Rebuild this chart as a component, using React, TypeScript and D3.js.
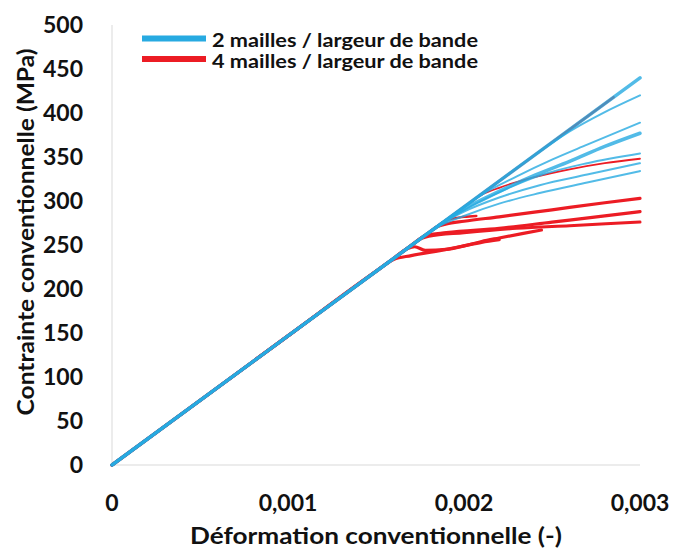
import React from "react";
import * as d3 from "d3";

type Pt = [number, number];

const xTicks = [0, 0.001, 0.002, 0.003];
const xTickLabels = ["0", "0,001", "0,002", "0,003"];
const yTicks = [0, 50, 100, 150, 200, 250, 300, 350, 400, 450, 500];

const xTitle = "Déformation conventionnelle (-)";
const yTitle = "Contrainte conventionnelle (MPa)";
const legendLabels = ["2 mailles / largeur de bande", "4 mailles / largeur de bande"];

// 4 mailles / largeur de bande (red)
const red1: Pt[] = [[0, 0], [0.001, 146.7], [0.0016, 234.7], [0.00285, 418]];
const red2: Pt[] = [[0, 0], [0.001, 146.7], [0.0016, 234.7], [0.002, 293.3], [0.0021, 307], [0.0022, 315], [0.0024, 327], [0.0026, 336], [0.0028, 343], [0.003, 348]];
const red3: Pt[] = [[0, 0], [0.001, 146.7], [0.0016, 234.7], [0.0018, 264], [0.00185, 271], [0.0019, 274], [0.002, 277], [0.0022, 282], [0.0025, 290], [0.0028, 298], [0.003, 303]];
const red4: Pt[] = [[0, 0], [0.001, 146.7], [0.0016, 234.7], [0.0017, 249.4], [0.00178, 260.5], [0.0019, 264], [0.0022, 269], [0.0025, 276], [0.0028, 283], [0.003, 288]];
const red5: Pt[] = [[0, 0], [0.001, 146.7], [0.0016, 234.7], [0.0017, 249.4], [0.00176, 257.5], [0.0018, 260], [0.002, 264], [0.0023, 269], [0.0026, 272], [0.003, 276]];
const red6: Pt[] = [[0, 0], [0.001, 146.7], [0.0016, 234.7], [0.00168, 246], [0.00172, 248], [0.00178, 244], [0.0019, 245], [0.002, 249], [0.0021, 254], [0.0022, 258], [0.00233, 263], [0.00244, 267]];
const red7: Pt[] = [[0, 0], [0.001, 146.7], [0.0015, 220], [0.0016, 233.5], [0.0017, 238], [0.0019, 245], [0.002, 249], [0.0021, 253], [0.0022, 256]];
const red8: Pt[] = [[0, 0], [0.001, 146.7], [0.0016, 234.7], [0.0018, 264], [0.0019, 278], [0.002, 282], [0.00207, 283]];

// 2 mailles / largeur de bande (blue)
const blue1: Pt[] = [[0, 0], [0.001, 146.7], [0.002, 293.3], [0.003, 440]];
const blue2: Pt[] = [[0, 0], [0.001, 146.7], [0.002, 293.3], [0.0024, 352], [0.0025, 366], [0.0026, 379], [0.0028, 401], [0.003, 420]];
const blue3: Pt[] = [[0, 0], [0.001, 146.7], [0.0016, 234.7], [0.002, 293.3], [0.0021, 307], [0.0023, 328], [0.0025, 347], [0.0027, 364], [0.003, 389]];
const blue4: Pt[] = [[0, 0], [0.001, 146.7], [0.0016, 234.7], [0.0018, 264], [0.0019, 278], [0.002, 291], [0.0022, 311], [0.0024, 329], [0.0026, 345], [0.0028, 362], [0.003, 377]];
const blue5: Pt[] = [[0, 0], [0.001, 146.7], [0.0016, 234.7], [0.0018, 264], [0.0019, 278], [0.0021, 300], [0.00243, 329], [0.0027, 343], [0.003, 354]];
const blue6: Pt[] = [[0, 0], [0.001, 146.7], [0.0016, 234.7], [0.0018, 264], [0.00188, 275], [0.002, 288], [0.0022, 304], [0.00243, 318], [0.0027, 330], [0.003, 343]];
const blue7: Pt[] = [[0, 0], [0.001, 146.7], [0.0016, 234.7], [0.0018, 264], [0.00185, 270.5], [0.002, 283], [0.0022, 297], [0.00243, 309], [0.0027, 321], [0.003, 334]];

const redSeries = [red1, red2, red3, red4, red5, red6, red7, red8];
const redWidths = [2.5, 1.8, 3.2, 3.2, 3, 3.2, 3.2, 2.5];
const blueSeries = [blue1, blue2, blue3, blue4, blue5, blue6, blue7];
const blueWidths = [3.5, 2, 2, 3.5, 2, 2, 2];

const RED = "#ec1c24";
const BLUE = "#27aae1";
const FONT = "Lato, 'Open Sans', sans-serif";

export default function App() {
  const W = 675, H = 554;
  const x = d3.scaleLinear().domain([0, 0.003]).range([112, 640]);
  const y = d3.scaleLinear().domain([0, 500]).range([465, 25]);
  const line = d3.line<Pt>().x(d => x(d[0])).y(d => y(d[1])).curve(d3.curveMonotoneX);

  return (
    <svg width={W} height={H} style={{ position: "absolute", left: 0, top: 0, background: "#fff" }}>
      <rect width={W} height={H} fill="#fff" />
      <line x1={x(0)} x2={x(0)} y1={y(500)} y2={y(0)} stroke="#d9d9d9" strokeWidth={1} />
      <line x1={x(0)} x2={x(0.003)} y1={y(0)} y2={y(0)} stroke="#d9d9d9" strokeWidth={1} />
      {yTicks.map(t => (
        <text key={t} x={83} y={y(t)} dy="0.36em" textAnchor="end" fontFamily={FONT} fontWeight={700} fontSize={23} fill="#111">{t}</text>
      ))}
      {xTicks.map((t, i) => (
        <text key={t} x={x(t)} y={511} textAnchor="middle" fontFamily={FONT} fontWeight={700} fontSize={23} fill="#111">{xTickLabels[i]}</text>
      ))}
      <text x={376} y={544} textAnchor="middle" fontFamily={FONT} fontWeight={700} fontSize={23} fill="#111" textLength={372} lengthAdjust="spacingAndGlyphs">{xTitle}</text>
      <text transform={`translate(34,232) rotate(-90)`} textAnchor="middle" fontFamily={FONT} fontWeight={700} fontSize={23} fill="#111" textLength={367} lengthAdjust="spacingAndGlyphs">{yTitle}</text>

      <g fill="none" strokeLinecap="round" strokeLinejoin="round">
        {redSeries.map((s, i) => (
          <path key={"r" + i} d={line(s) || ""} stroke={RED} strokeWidth={redWidths[i]} />
        ))}
        {blueSeries.map((s, i) => (
          <path key={"b" + i} d={line(s) || ""} stroke={BLUE} strokeWidth={blueWidths[i]} strokeOpacity={0.8} />
        ))}
      </g>

      <line x1={142} x2={206} y1={38.5} y2={38.5} stroke={BLUE} strokeWidth={6} />
      <line x1={142} x2={206} y1={59} y2={59} stroke={RED} strokeWidth={6} />
      <text x={212} y={47} fontFamily={FONT} fontWeight={700} fontSize={18} fill="#111" textLength={266} lengthAdjust="spacingAndGlyphs">{legendLabels[0]}</text>
      <text x={212} y={68} fontFamily={FONT} fontWeight={700} fontSize={18} fill="#111" textLength={266} lengthAdjust="spacingAndGlyphs">{legendLabels[1]}</text>
    </svg>
  );
}
